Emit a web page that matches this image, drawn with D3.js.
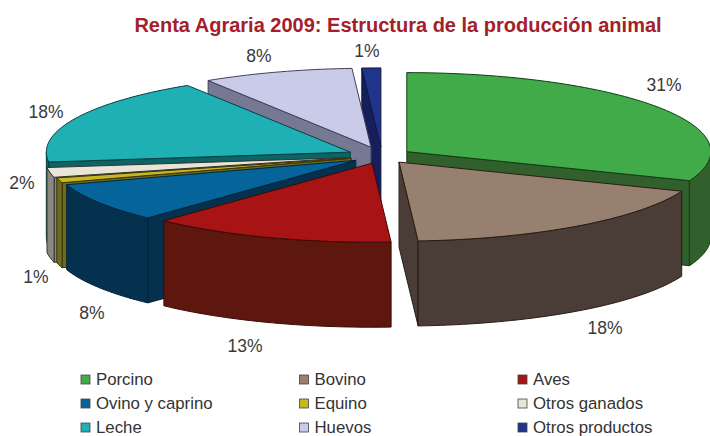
<!DOCTYPE html>
<html>

<head>
    <meta charset="UTF-8">
    <title>Renta Agraria 2009</title>
    <script src="https://d3js.org/d3.v7.min.js"></script>
    <style>
        body { margin: 0; background: #fff; }
        text { font-family: "Liberation Sans", Arial, sans-serif; }
        .chart-title { font-size: 20px; font-weight: bold; fill: #a3202a; text-anchor: middle; }
        .label-pct { font-size: 17.5px; fill: #3a3a3a; text-anchor: middle; }
        .label-legend { font-size: 16.8px; fill: #333; }
    </style>
</head>

<body>
    <script>
        var categories = ["Porcino", "Bovino", "Aves", "Ovino y caprino", "Equino", "Otros ganados", "Leche", "Huevos", "Otros productos"];
        var percents = [31, 18, 13, 8, 1, 2, 18, 8, 1];

        // look of each slice, in the same order as the categories
        var topColors = ["#41ab4a", "#97806f", "#a81313", "#05659a", "#c8b820", "#e8e4d8", "#1fb0b5", "#c9cbe8", "#21348c"];
        var sideColors = ["#32602c", "#4a3d38", "#5e170f", "#05314f", "#6f6a20", "#8a8880", "#0d6465", "#777893", "#161f5a"];
        var edgeColors = ["#123d14", "#2a1c14", "#3a0c08", "#02263d", "#3a3608", "#333", "#083f40", "#3f4060", "#101540"];
        var explode = [30, 29, 29.5, 31, 32, 34, 35, 35.5, 35];
        var labelPos = [[664, 91], [605, 334], [245, 352], [92, 319], [36, 283], [22, 189], [46, 118], [259, 62], [367, 57]];

        var width = 710, height = 436;
        var cx = 382, cy = 156, rx = 304, ry = 79, depth = 85;

        var svg = d3.select("body").append("svg")
            .attr("width", width).attr("height", height);

        svg.append("text").classed("chart-title", true)
            .attr("x", 398).attr("y", 32)
            .text("Renta Agraria 2009: Estructura de la producción animal");

        var xUnit = d3.scaleLinear().domain([-1, 1]).range([-rx, rx]);
        var yUnit = d3.scaleLinear().domain([-1, 1]).range([ry, -ry]);

        var slices = d3.pie().sort(null).value(function (d) { return d; })(percents);

        var line = d3.line();

        // one slice seen from above: angle 0 is at the top and goes clockwise
        function apex(d) {
            var mid = (d.startAngle + d.endAngle) / 2, e = explode[d.index] / rx;
            return [cx + xUnit(e * Math.sin(mid)), cy + yUnit(e * Math.cos(mid))];
        }

        function rim(d, a0, a1, dz) {
            var c = apex(d), n = Math.max(2, Math.ceil((a1 - a0) * 40));
            return d3.range(n + 1).map(function (i) {
                var a = a0 + (a1 - a0) * i / n;
                return [c[0] + xUnit(Math.sin(a)), c[1] + yUnit(Math.cos(a)) + dz];
            });
        }

        function topFace(d) {
            return line([apex(d)].concat(rim(d, d.startAngle, d.endAngle, 0))) + "Z";
        }

        function cutFace(d, a) {
            var c = apex(d), p = rim(d, a, a, 0)[0];
            return line([c, p, [p[0], p[1] + depth], [c[0], c[1] + depth]]) + "Z";
        }

        // only the part of the outer wall that looks to the front
        function wallFace(d) {
            var a0 = Math.max(d.startAngle, Math.PI / 2), a1 = Math.min(d.endAngle, Math.PI * 3 / 2);
            if (a1 <= a0) return null;
            return line(rim(d, a0, a1, 0).concat(rim(d, a0, a1, depth).reverse())) + "Z";
        }

        // painter's order: back slices first, the two right ones last
        var order = [8, 7, 6, 5, 4, 3, 2, 0, 1];

        var pie = svg.append("g").selectAll("g")
            .data(order.map(function (i) { return slices[i]; }))
            .enter().append("g");

        function addPart(sel, pathFn, fillFn) {
            sel.append("path")
                .attr("d", pathFn)
                .attr("fill", fillFn)
                .attr("stroke", function (d) { return edgeColors[d.index]; })
                .attr("stroke-width", 1)
                .attr("stroke-linejoin", "round");
        }

        function side(d) { return sideColors[d.index]; }

        // a cut face shows only when it turns towards the viewer
        addPart(pie.filter(function (d) { return Math.sin(d.startAngle) < -1e-6; }),
            function (d) { return cutFace(d, d.startAngle); }, side);
        addPart(pie.filter(function (d) { return Math.sin(d.endAngle) > 1e-6; }),
            function (d) { return cutFace(d, d.endAngle); }, side);
        addPart(pie.filter(wallFace), wallFace, side);
        addPart(pie, topFace, function (d) { return topColors[d.index]; });

        // percent labels
        svg.append("g").selectAll("text").data(percents)
            .enter().append("text").classed("label-pct", true)
            .attr("x", function (d, i) { return labelPos[i][0]; })
            .attr("y", function (d, i) { return labelPos[i][1]; })
            .text(function (d) { return d + "%"; });

        // legend
        var legendX = d3.scalePoint().domain([0, 1, 2]).range([81, 518]);
        var legendY = d3.scalePoint().domain([0, 1, 2]).range([375, 423]);

        var legend = svg.append("g").selectAll("g").data(categories)
            .enter().append("g")
            .attr("transform", function (d, i) {
                return "translate(" + legendX(i % 3) + "," + legendY(Math.floor(i / 3)) + ")";
            });

        legend.append("rect").attr("width", 9).attr("height", 9)
            .attr("fill", function (d, i) { return topColors[i]; })
            .attr("stroke", "#444").attr("stroke-width", 0.8);

        legend.append("text").classed("label-legend", true)
            .attr("x", 15).attr("y", 10)
            .text(function (d) { return d; });
    </script>
</body>

</html>
